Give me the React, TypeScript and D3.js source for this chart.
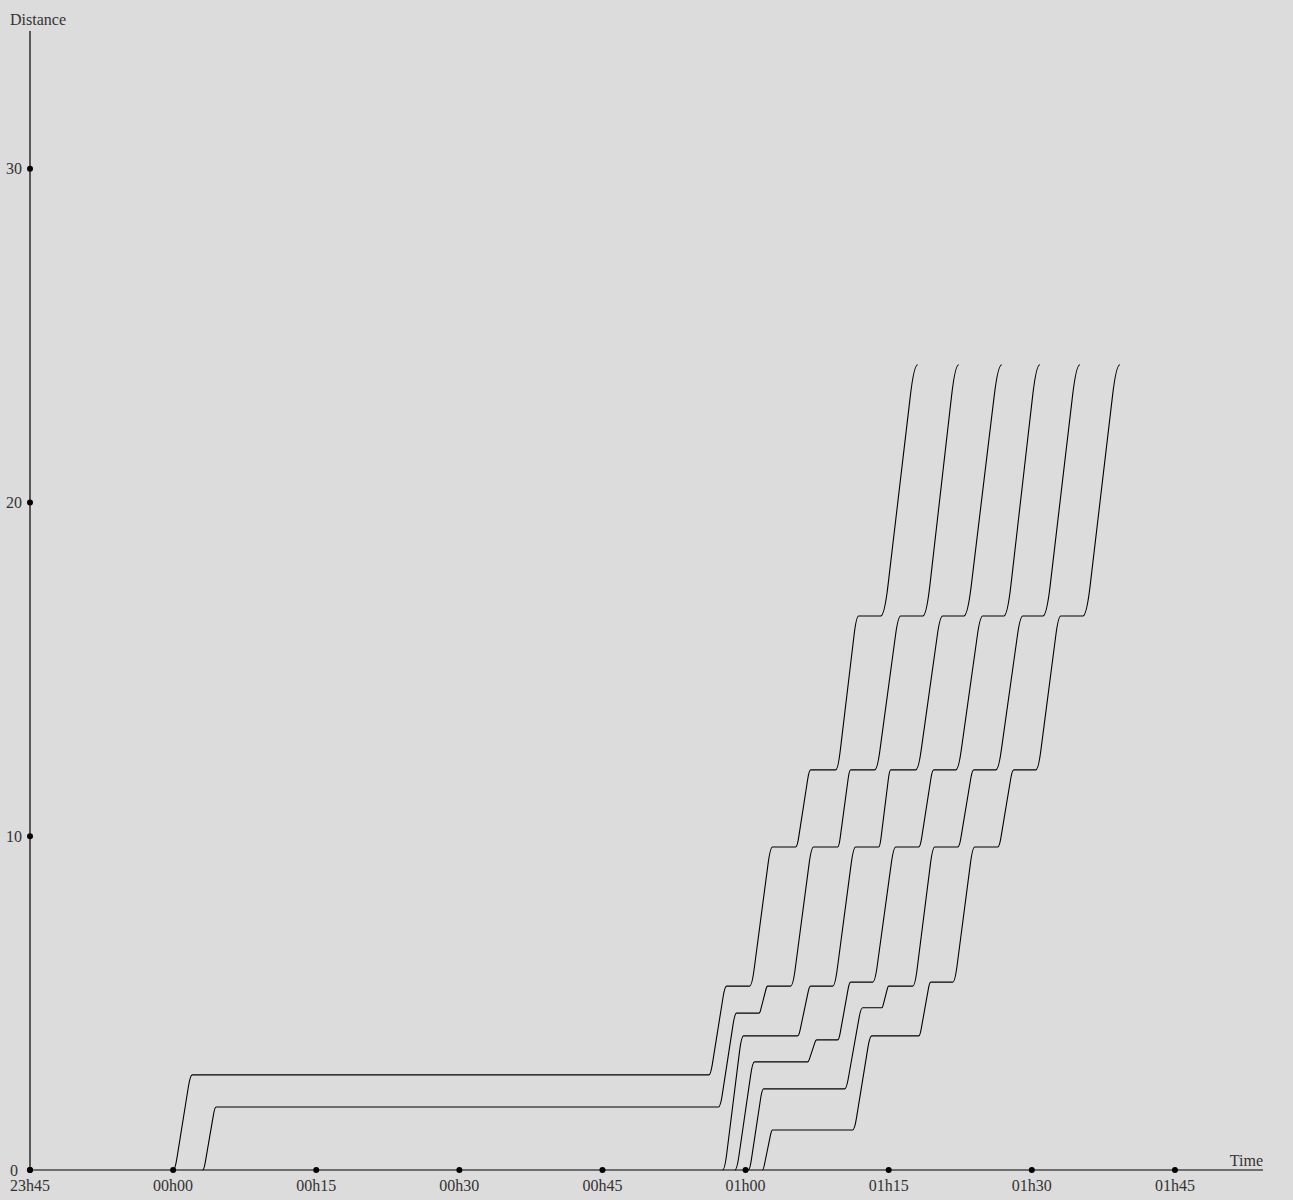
import React, { useEffect, useRef } from 'react';
import * as d3 from 'd3';

// Each stop: [arrival, departure, distance]. Times in minutes from 00h00.
const trainA = [
  [0, 0, 0],
  [2.0, 56.15, 2.85],
  [58.01, 60.42, 5.51],
  [62.83, 65.25, 9.68],
  [66.82, 69.44, 11.99],
  [71.85, 74.16, 16.6],
  [78.04, 78.04, 24.13],
];
const trainB = [
  [3.09, 3.09, 0],
  [4.51, 57.17, 1.89],
  [59.06, 61.4, 4.7],
  [62.31, 64.72, 5.51],
  [67.13, 69.65, 9.68],
  [71.01, 73.53, 11.99],
  [76.26, 78.57, 16.6],
  [82.34, 82.34, 24.13],
];
const trainC = [
  [57.59, 57.59, 0],
  [59.79, 65.45, 4.02],
  [66.82, 69.13, 5.51],
  [71.54, 73.95, 9.68],
  [75.21, 77.83, 11.99],
  [80.66, 82.87, 16.6],
  [86.85, 86.85, 24.13],
];
const trainD = [
  [58.88, 58.88, 0],
  [60.94, 66.5, 3.24],
  [67.45, 69.65, 3.9],
  [71.01, 73.32, 5.63],
  [75.75, 78.15, 9.68],
  [79.72, 82.03, 11.99],
  [84.86, 87.06, 16.6],
  [90.84, 90.84, 24.13],
];
const trainE = [
  [60.28, 60.28, 0],
  [61.89, 70.38, 2.43],
  [72.27, 74.27, 4.86],
  [75.0, 77.52, 5.51],
  [79.83, 82.24, 9.68],
  [83.92, 86.23, 11.99],
  [89.06, 91.16, 16.6],
  [95.04, 95.04, 24.13],
];
const trainF = [
  [61.75, 61.75, 0],
  [62.83, 71.22, 1.2],
  [73.22, 78.15, 4.02],
  [79.41, 81.71, 5.63],
  [84.02, 86.43, 9.68],
  [88.11, 90.42, 11.99],
  [93.04, 95.35, 16.6],
  [99.23, 99.23, 24.13],
];
const trains = [trainA, trainB, trainC, trainD, trainE, trainF];

const distanceTicks = [0, 10, 20, 30];

const fmtTime = (m: number) => {
  const h = Math.floor((m + 1440) / 60) % 24;
  const mm = ((m % 60) + 60) % 60;
  return `${String(h).padStart(2, '0')}h${String(Math.round(mm)).padStart(2, '0')}`;
};

const App: React.FC = () => {
  const ref = useRef<SVGSVGElement | null>(null);

  useEffect(() => {
    const W = 1293;
    const H = 1200;
    const left = 30, right = 1263, top = 31, bottom = 1170;

    const svg = d3.select(ref.current);
    svg.selectAll('*').remove();

    const allStops = trains.flat();
    const tMin = d3.min(allStops, d => d[0]) as number;
    const tMax = d3.max(allStops, d => d[1]) as number;
    const dMax = d3.max(allStops, d => d[2]) as number;

    const x = d3.scaleLinear().domain([tMin - 15, tMax + 15]).range([left, right]);
    const y = d3.scaleLinear().domain([0, dMax + 10]).range([bottom, top]);

    svg.append('rect').attr('width', W).attr('height', H).attr('fill', '#dcdcdc');

    const font = "'Liberation Serif', 'Times New Roman', serif";

    // axes
    svg.append('line')
      .attr('x1', left).attr('x2', right).attr('y1', bottom).attr('y2', bottom)
      .attr('stroke', '#000').attr('stroke-width', 1.2);
    svg.append('line')
      .attr('x1', left).attr('x2', left).attr('y1', bottom).attr('y2', top)
      .attr('stroke', '#000').attr('stroke-width', 1.2);

    const timeTicks = d3.range(tMin - 15, tMax + 15, 15);

    svg.selectAll('.xt').data(timeTicks).enter().append('circle')
      .attr('cx', d => x(d)).attr('cy', bottom).attr('r', 3).attr('fill', '#000');
    svg.selectAll('.xl').data(timeTicks).enter().append('text')
      .attr('x', d => x(d)).attr('y', bottom + 21)
      .attr('text-anchor', 'middle')
      .style('font-family', font).style('font-size', '16px').attr('fill', '#333')
      .text(d => fmtTime(d));

    svg.selectAll('.yt').data(distanceTicks).enter().append('circle')
      .attr('cx', left).attr('cy', d => y(d)).attr('r', 3).attr('fill', '#000');
    svg.selectAll('.yl').data(distanceTicks).enter().append('text')
      .attr('x', 14).attr('y', d => y(d) + 5.5)
      .attr('text-anchor', 'middle')
      .style('font-family', font).style('font-size', '16px').attr('fill', '#333')
      .text(d => String(d));

    svg.append('text').attr('x', 10).attr('y', 25)
      .style('font-family', font).style('font-size', '16px').attr('fill', '#333')
      .text('Distance');
    svg.append('text').attr('x', right).attr('y', 1166).attr('text-anchor', 'end')
      .style('font-family', font).style('font-size', '16px').attr('fill', '#333')
      .text('Time');

    // train paths: dwell flat, then accelerate / cruise / brake between stops
    const accelFrac = 0.2;
    trains.forEach(stops => {
      const p = d3.path();
      p.moveTo(x(stops[0][0]), y(stops[0][2]));
      stops.forEach((s, i) => {
        if (i > 0) {
          const prev = stops[i - 1];
          const x0 = x(prev[1]), y0 = y(prev[2]);
          const x1 = x(s[0]), y1 = y(s[2]);
          const T = x1 - x0;
          const ta = T * accelFrac;
          const v = (y1 - y0) / (T - ta);
          const da = v * ta / 2;
          p.quadraticCurveTo(x0 + ta / 2, y0, x0 + ta, y0 + da);
          p.lineTo(x1 - ta, y1 - da);
          p.quadraticCurveTo(x1 - ta / 2, y1, x1, y1);
        }
        p.lineTo(x(s[1]), y(s[2]));
      });
      svg.append('path')
        .attr('d', p.toString())
        .attr('fill', 'none')
        .attr('stroke', '#000')
        .attr('stroke-width', 1.1);
    });
  }, []);

  return (
    <div style={{ position: 'absolute', left: 0, top: 0 }}>
      <svg ref={ref} width={1293} height={1200} style={{ display: 'block' }} />
    </div>
  );
};

export default App;
